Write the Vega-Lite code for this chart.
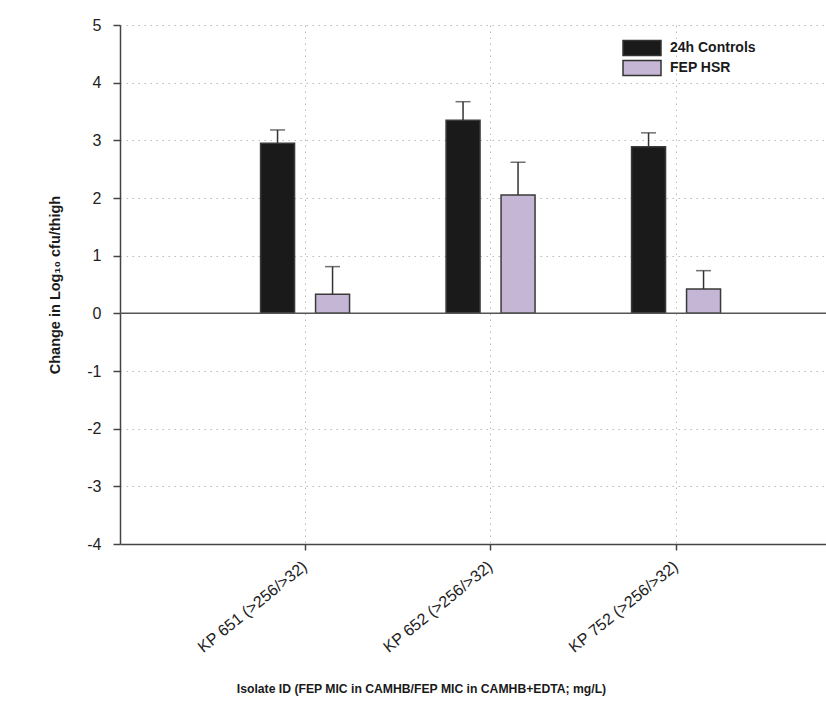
{
  "$schema": "https://vega.github.io/schema/vega-lite/v6.json",
  "width": 706,
  "height": 519,
  "autosize": {"type": "none"},
  "padding": {"left": 120, "top": 25, "right": 0, "bottom": 159},
  "background": "white",
  "config": {
    "view": {"stroke": null},
    "font": "Liberation Sans"
  },
  "data": {
    "values": [
      {"isolate": "KP 651 (>256/>32)", "group": "24h Controls", "value": 2.95, "upper": 3.18},
      {"isolate": "KP 651 (>256/>32)", "group": "FEP HSR", "value": 0.33, "upper": 0.81},
      {"isolate": "KP 652 (>256/>32)", "group": "24h Controls", "value": 3.35, "upper": 3.67},
      {"isolate": "KP 652 (>256/>32)", "group": "FEP HSR", "value": 2.05, "upper": 2.62},
      {"isolate": "KP 752 (>256/>32)", "group": "24h Controls", "value": 2.89, "upper": 3.13},
      {"isolate": "KP 752 (>256/>32)", "group": "FEP HSR", "value": 0.42, "upper": 0.74}
    ]
  },
  "encoding": {
    "x": {
      "field": "isolate",
      "type": "nominal",
      "sort": null,
      "scale": {"type": "band", "paddingInner": 0.407, "paddingOuter": 0.6065, "align": 0.578},
      "axis": {
        "title": "Isolate ID (FEP MIC in CAMHB/FEP MIC in CAMHB+EDTA; mg/L)",
        "titleFont": "Liberation Sans",
        "titleFontSize": 12.2,
        "titleFontWeight": "bold",
        "titleColor": "#1a1a1a",
        "titleX": 301,
        "titleY": 144,
        "titleBaseline": "middle",
        "titleAnchor": "middle",
        "labelAngle": -39,
        "labelAlign": "right",
        "labelBaseline": "middle",
        "labelFont": "Liberation Sans",
        "labelFontSize": 16,
        "labelColor": "#222",
        "labelPadding": 14,
        "labelLimit": 300,
        "domainColor": "#444",
        "domainWidth": 1.5,
        "tickColor": "#444",
        "tickWidth": 1.5,
        "tickSize": 6,
        "grid": true,
        "gridColor": "#bbbbbb",
        "gridDash": [1.5, 4.5],
        "gridWidth": 1
      }
    },
    "xOffset": {
      "field": "group",
      "type": "nominal",
      "scale": {"paddingInner": 0.382, "paddingOuter": 0.191}
    }
  },
  "layer": [
    {
      "mark": {"type": "bar", "stroke": "#3a3a3a", "strokeWidth": 1.5},
      "encoding": {
        "y": {
          "field": "value",
          "type": "quantitative",
          "scale": {"domain": [-4, 5], "nice": false, "zero": false},
          "axis": {
            "title": "Change in Log₁₀ cfu/thigh",
            "titleFont": "Liberation Sans",
            "titleFontSize": 14.5,
            "titleFontWeight": "bold",
            "titleColor": "#1a1a1a",
            "titlePadding": 24,
            "values": [-4, -3, -2, -1, 0, 1, 2, 3, 4, 5],
            "labelExpr": "'' + datum.value",
            "labelFont": "Liberation Sans",
            "labelFontSize": 16,
            "labelColor": "#222",
            "labelPadding": 12,
            "domainColor": "#444",
            "domainWidth": 1.5,
            "tickColor": "#444",
            "tickWidth": 1.5,
            "tickSize": 7,
            "grid": true,
            "gridColor": "#bbbbbb",
            "gridDash": [1.5, 4.5],
            "gridWidth": 1
          }
        },
        "color": {
          "field": "group",
          "type": "nominal",
          "scale": {"domain": ["24h Controls", "FEP HSR"], "range": ["#1a1a1a", "#c5b6d6"]},
          "legend": {
            "orient": "none",
            "legendX": 513,
            "legendY": 14,
            "title": null,
            "padding": 0,
            "symbolType": "M-2.375,-0.9375H2.375V0.9375H-2.375Z",
            "symbolSize": 256,
            "symbolStrokeColor": "#333",
            "symbolStrokeWidth": 1.5,
            "labelFont": "Liberation Sans",
            "labelFontSize": 14,
            "labelFontWeight": "bold",
            "labelColor": "#1a1a1a",
            "labelOffset": 19,
            "rowPadding": -2
          }
        }
      }
    },
    {
      "mark": {"type": "rule", "color": "#333", "strokeWidth": 1.5},
      "encoding": {
        "y": {"field": "value", "type": "quantitative"},
        "y2": {"field": "upper"}
      }
    },
    {
      "mark": {"type": "tick", "color": "#333", "thickness": 1.5, "size": 15, "orient": "horizontal"},
      "encoding": {
        "y": {"field": "upper", "type": "quantitative"}
      }
    },
    {
      "data": {"values": [{"zero": 0}]},
      "mark": {"type": "rule", "color": "#555", "strokeWidth": 1.5},
      "encoding": {
        "y": {"field": "zero", "type": "quantitative"},
        "x": null,
        "xOffset": null
      }
    }
  ]
}
